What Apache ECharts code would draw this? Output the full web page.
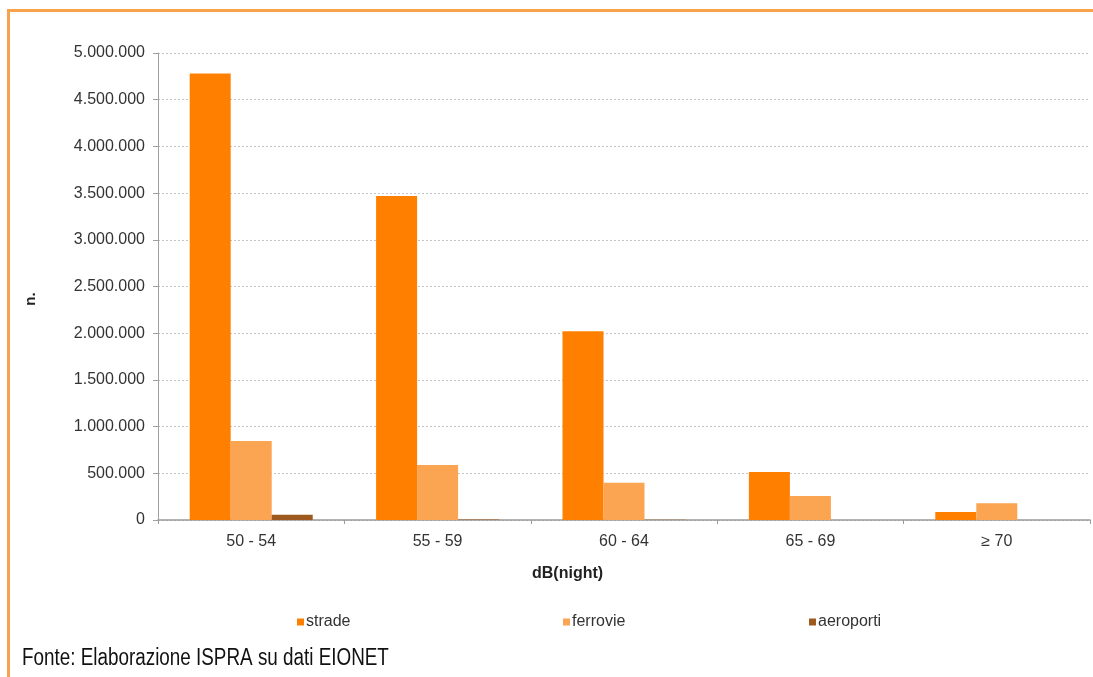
<!DOCTYPE html>
<html>
<head>
<meta charset="utf-8">
<script src="https://cdn.jsdelivr.net/npm/echarts@6/dist/echarts.min.js"></script>
<style>
html,body{margin:0;padding:0;background:#fff;}
#chart{width:1093px;height:677px;}
</style>
</head>
<body>
<div id="chart"></div>
<script>
const categories = ['50 - 54', '55 - 59', '60 - 64', '65 - 69', '≥ 70'];
const strade = [4780000, 3470000, 2020000, 515000, 85000];
const ferrovie = [846000, 590000, 400000, 257000, 180000];
const aeroporti = [55000, 5000, 3000, 1000, 0];
const yTicks = { min: 0, max: 5000000, interval: 500000 };

const seriesNames = ['strade', 'ferrovie', 'aeroporti'];
const colors = ['#FF8000', '#FBA552', '#9E5A1E'];

function fmt(v) {
  return String(v).replace(/\B(?=(\d{3})+(?!\d))/g, '.');
}

const chart = echarts.init(document.getElementById('chart'));
const baseFont = 'Liberation Sans, Arial, sans-serif';

function legendAt(name, left) {
  return {
    data: [name],
    left: left,
    top: 609,
    icon: 'rect',
    itemWidth: 7,
    itemHeight: 7,
    itemGap: 0,
    textStyle: { fontSize: 16, color: '#333', fontFamily: baseFont, padding: [0, 0, 0, -3] },
    selectedMode: false
  };
}

chart.setOption({
  backgroundColor: '#ffffff',
  animation: false,
  color: colors,
  grid: { left: 158, right: 3, top: 53, bottom: 157, containLabel: false },
  legend: [legendAt('strade', 292), legendAt('ferrovie', 558), legendAt('aeroporti', 804)],
  xAxis: {
    type: 'category',
    data: categories,
    axisLine: { show: true, lineStyle: { color: '#9a9a9a', width: 1.5 } },
    axisTick: { show: true, length: 4, lineStyle: { color: '#9a9a9a' } },
    axisLabel: { fontSize: 16, color: '#333', fontFamily: baseFont, margin: 14 },
    splitLine: { show: false }
  },
  yAxis: {
    type: 'value',
    min: yTicks.min,
    max: yTicks.max,
    interval: yTicks.interval,
    axisLine: { show: true, lineStyle: { color: '#a0a0a0', width: 1 } },
    axisTick: { show: true, length: 5, lineStyle: { color: '#a0a0a0' } },
    axisLabel: { fontSize: 16, color: '#333', fontFamily: baseFont, margin: 13, formatter: fmt },
    splitLine: { show: true, lineStyle: { color: '#c4c4c4', type: [2, 2], width: 1 } }
  },
  series: [
    { name: seriesNames[0], type: 'bar', data: strade, barGap: '0%', barCategoryGap: '34%', itemStyle: { color: colors[0] } },
    { name: seriesNames[1], type: 'bar', data: ferrovie, barGap: '0%', barCategoryGap: '34%', itemStyle: { color: colors[1] } },
    { name: seriesNames[2], type: 'bar', data: aeroporti, barGap: '0%', barCategoryGap: '34%', itemStyle: { color: colors[2] } }
  ],
  graphic: [
    {
      type: 'rect',
      shape: { x: 8.5, y: 10.5, width: 1200, height: 800 },
      style: { fill: 'none', stroke: '#F7A24C', lineWidth: 3 },
      silent: true
    },
    {
      type: 'text',
      left: 532,
      top: 566,
      style: { text: 'dB(night)', fontSize: 16, fontWeight: 'bold', fill: '#222', fontFamily: baseFont }
    },
    {
      type: 'text',
      x: 31,
      y: 299,
      rotation: Math.PI / 2,
      style: { text: 'n.', fontSize: 15, fontWeight: 'bold', fill: '#222', fontFamily: baseFont, align: 'center', verticalAlign: 'middle' }
    },
    {
      type: 'text',
      x: 22,
      y: 647,
      scaleX: 0.82,
      style: { text: 'Fonte: Elaborazione ISPRA su dati EIONET', fontSize: 23, fill: '#111', fontFamily: baseFont, align: 'left', verticalAlign: 'top' }
    }
  ]
});
</script>
</body>
</html>
